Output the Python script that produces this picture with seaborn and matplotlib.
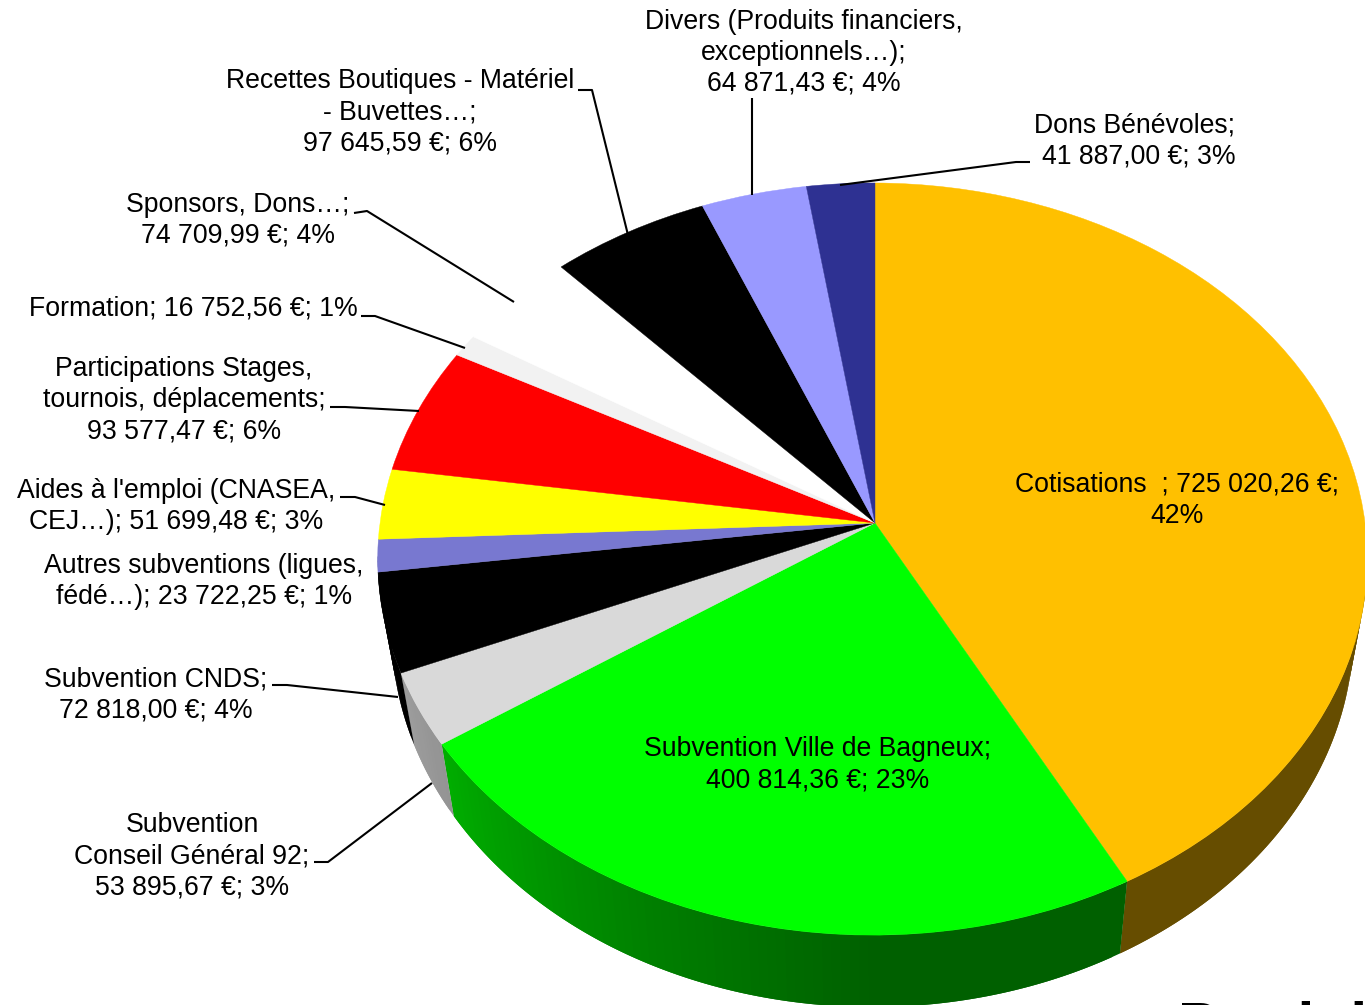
import numpy as np
import matplotlib
matplotlib.use("Agg")
import matplotlib.pyplot as plt
import seaborn as sns
from matplotlib.transforms import Transform

categories = ["Cotisations", "Subvention Ville de Bagneux", "Subvention Conseil Général 92",
              "Subvention CNDS", "Autres subventions", "Aides à l'emploi",
              "Participations Stages", "Formation", "Sponsors, Dons", "Recettes Boutiques",
              "Divers", "Dons Bénévoles"]
values = [725020.26, 400814.36, 53895.67, 72818.00, 23722.25, 51699.48,
          93577.47, 16752.56, 74709.99, 97645.59, 64871.43, 41887.00]
slice_colors = ["#FFC000", "#00FF00", "#D9D9D9", "#000000", "#7878D0", "#FFFF00",
                "#FF0000", "#F2F2F2", "#FFFFFF", "#000000", "#9999FF", "#2E3192"]

label_texts = ["Cotisations  ; 725 020,26 €;\n42%",
               "Subvention Ville de Bagneux;\n400 814,36 €; 23%",
               "Subvention\nConseil Général 92;\n53 895,67 €; 3%",
               "Subvention CNDS;\n72 818,00 €; 4%",
               "Autres subventions (ligues,\nfédé…); 23 722,25 €; 1%",
               "Aides à l'emploi (CNASEA,\nCEJ…); 51 699,48 €; 3%",
               "Participations Stages,\ntournois, déplacements;\n93 577,47 €; 6%",
               "Formation; 16 752,56 €; 1%",
               "Sponsors, Dons…;\n74 709,99 €; 4%",
               "Recettes Boutiques - Matériel\n- Buvettes…;\n97 645,59 €; 6%",
               "Divers (Produits financiers,\nexceptionnels…);\n64 871,43 €; 4%",
               "Dons Bénévoles;\n41 887,00 €; 3%"]
label_x = [1177, 818, 192, 156, 204, 176, 184, 193, 238, 400, 804, 1135]
label_y = [500, 764.5, 856, 694.5, 581, 506, 400, 308.5, 220, 112, 52.5, 140.5]
label_align = ["center"] * 11 + ["right"]

leaders = [None, None,
           [(314, 862), (328, 862), (432, 783)],
           [(272, 685), (287, 685), (398, 697)],
           None,
           [(340, 497), (355, 497), (385, 505)],
           [(330, 407), (345, 407), (419, 411)],
           [(361, 316), (375, 316), (465, 348)],
           [(354, 213), (367, 211), (514, 302)],
           [(578, 90), (592, 90), (628, 235)],
           [(752, 98), (752, 195)],
           [(1030, 162), (1016, 162), (840, 185)]]

# Tilted pie geometry, in pixels
CX, CY = 875, 523
RX, RY, TILT, YAW = 492.5, 372.6, 0.0958, 0.005
DEPTH, BOTTOM_SCALE = 72, 0.972


class Tilted(Transform):
    input_dims = output_dims = 2

    def transform_non_affine(self, xy):
        xy = np.asarray(xy, dtype=float)
        w = 1 + TILT * xy[:, 1] + YAW * xy[:, 0]
        return np.column_stack([CX + RX * xy[:, 0] / w, CY - RY * xy[:, 1] / w])


def side_shade(theta):
    return np.interp(theta, [0, 151.9, 152, 180, 205, 236, 260],
                     [0.40, 0.40, 0.376, 0.376, 0.50, 0.68, 0.77])


sns.set_theme(style="white")
plt.rcParams['font.family'] = ['Liberation Sans', 'DejaVu Sans']

fig = plt.figure(figsize=(13.65, 10.05), dpi=100)
ax = fig.add_axes([0, 0, 1, 1])

palette = sns.color_palette(slice_colors)
wedges, _ = ax.pie(values, colors=palette, startangle=90, counterclock=False, radius=1,
                   wedgeprops={"linewidth": 0.3, "zorder": 3})
ax.set_aspect("auto")
ax.set_xlim(0, 1365)
ax.set_ylim(1005, 0)
ax.axis("off")

tilt = Tilted()
for w, c in zip(wedges, palette):
    w.set_transform(tilt + ax.transData)
    w.set_edgecolor(c)

# Rim of the pie, strips overlap so no seams show, only on the front half
edges = np.concatenate([[0], np.cumsum(values)]) / np.sum(values) * 360
for start, end, c in zip(edges[:-1], edges[1:], palette):
    lo, hi = max(start, 95), min(end, 265)
    if hi <= lo:
        continue
    steps = np.linspace(lo, hi, int(hi - lo) + 2)
    for a, b in zip(steps[:-1], steps[1:]):
        t = np.radians(np.linspace(a, hi if b + 1 > hi else b + 1, 4))
        top = tilt.transform_non_affine(np.column_stack([np.sin(t), np.cos(t)]))
        low = np.column_stack([CX + BOTTOM_SCALE * (top[:, 0] - CX), top[:, 1] + DEPTH])
        poly = np.vstack([top, low[::-1]])
        col = tuple(np.array(c) * side_shade((a + b) / 2))
        ax.fill(poly[:, 0], poly[:, 1], color=col, lw=0, zorder=2)

for pts in leaders:
    if pts:
        xs, ys = zip(*pts)
        ax.plot(xs, ys, color="black", lw=1.5, zorder=4, solid_capstyle="butt")

for txt, x, y, al in zip(label_texts, label_x, label_y, label_align):
    ax.text(x, y, txt, ha="center", va="center", multialignment=al,
            fontsize=19.2, linespacing=1.25, color="black", zorder=5)

# Title cut off by the bottom of the picture in the source
ax.text(1178, 1043, "Produits", fontsize=43, fontweight="bold", ha="left", va="baseline",
        color="black", zorder=5)

fig.savefig("out.png", dpi=100)
